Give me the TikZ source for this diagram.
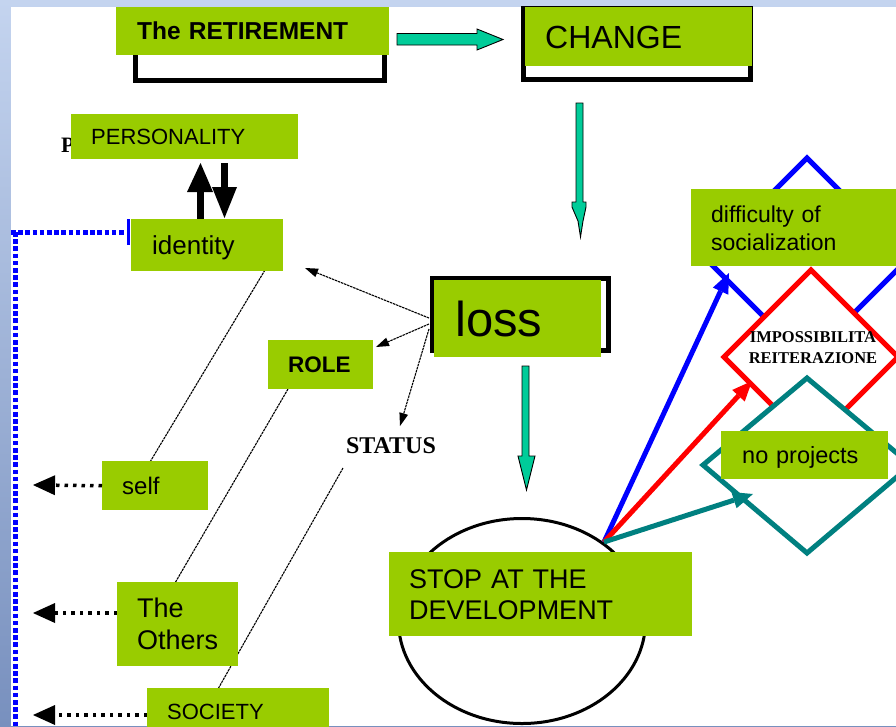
\documentclass[tikz,border=0pt]{standalone}
\usepackage{fontspec}
\setmainfont{Liberation Sans}
\newfontfamily\serifbf{Liberation Serif}
\usetikzlibrary{arrows.meta,shapes.geometric}
\definecolor{lime}{HTML}{99CC00}
\definecolor{aqua}{HTML}{00CC99}
\definecolor{tealdk}{HTML}{008080}
\definecolor{bgtop}{HTML}{C4D4EF}
\definecolor{bgbot}{HTML}{7890BE}
\newcommand\fsz[2]{\fontsize{#1pt}{#2pt}\selectfont}
\begin{document}
\begin{tikzpicture}[x=1pt,y=-1pt,
  gbox/.style={fill=lime, anchor=north west, inner ysep=0pt, align=left, text depth=0pt, text=black},
  outl/.style={draw=black, line width=5pt, fill=white},
  blockarr/.style={fill=aqua, draw=black, line width=0.9pt, line join=miter},
  thinln/.style={line width=1.1pt, dash pattern=on 2.5pt off 0.8pt},
  thinarr/.style={thinln, -{Triangle[length=13pt,width=9pt,line width=0pt]}},
  dotarr/.style={line width=3.5pt, dash pattern=on 3.5pt off 5pt, -{Triangle[length=22pt,width=20pt,line width=0pt]}},
  bluedot/.style={blue, line width=4.5pt, dash pattern=on 4.5pt off 2.7pt},
  hubarr/.style={line width=5pt, -{Triangle[length=20pt,width=17pt,line width=0pt]}},
  diam/.style={line width=5pt, fill=white, line join=miter},
]
\useasboundingbox (0,0) rectangle (896,726);
% slide background
\shade[top color=bgtop, bottom color=bgbot] (0,0) rectangle (896,726);
\fill[white] (11,7) rectangle (896,726);

% blue dotted frame
\draw[bluedot] (11,232.5) -- (126,232.5);
\draw[bluedot] (15.5,232) -- (15.5,730);
\draw[blue, line width=3pt] (128,219) -- (128,245);

% outlines behind green boxes
\draw[outl] (135.5,20) rectangle (384.5,80);
\draw[outl] (523,8.5) rectangle (750.5,79.5);
\draw[outl] (432.5,278.5) rectangle (608.5,350.5);

% diamonds
\draw[diam, draw=blue] (807,158) -- (908,259) -- (807,360) -- (706,259) -- cycle;
\draw[diam, draw=red] (811,270) -- (898,357) -- (811,444) -- (724,357) -- cycle;
\node[align=center, inner sep=0pt, font=\serifbf\bfseries\fsz{16.5}{21}] (imp) at (813,348) {IMPOSSIBILITA\\REITERAZIONE};
\draw[diam, draw=tealdk] (807,378) -- (911,465) -- (807,553) -- (703,465) -- cycle;

% ellipse
\node[ellipse, draw=black, line width=3pt, minimum width=247pt, minimum height=205pt, inner sep=0pt] (ell) at (522,621) {};
\coordinate (hub) at (604,542);
\coordinate (tb) at (729,273);
\coordinate (tr) at (752,381);
\coordinate (tt) at (753,494);
\draw[hubarr, blue] (hub) -- (tb);
\draw[hubarr, red] (hub) -- (tr);
\draw[hubarr, tealdk] (hub) -- (tt);

% block arrows
\draw[blockarr] (397,33.5) -- (477,33.5) -- (477,29) -- (503,39.5) -- (477,50) -- (477,45) -- (397,45) -- cycle;
\draw[blockarr] (576,103) -- (583,103) -- (583,202) -- (586,202) -- (586,207) -- (583,221) -- (580.5,237) -- (578,221) -- (572,207) -- (572,202) -- (576,202) -- cycle;
\draw[blockarr] (522,366) -- (529,366) -- (529,456) -- (535,456) -- (531,472) -- (526.5,490) -- (522,472) -- (518,456) -- (522,456) -- cycle;

% personality <-> identity arrows
\fill[black] (197,192) rectangle (204,219);
\fill[black] (187,192) -- (200.5,163) -- (213,192) -- cycle;
\fill[black] (221,163) rectangle (228,188);
\fill[black] (212,187) -- (224.5,218) -- (237,187) -- cycle;

% partially hidden letter
\node[anchor=base west, inner sep=0pt, font=\serifbf\bfseries\fsz{22}{24}] (pp) at (61,152) {P};

% slanted thin lines
\coordinate (l1a) at (265,270); \coordinate (l1b) at (150,462);
\coordinate (l2a) at (288,389); \coordinate (l2b) at (175,583);
\coordinate (l3a) at (343,468); \coordinate (l3b) at (218,689);
\draw[thinln] (l1a) -- (l1b);
\draw[thinln] (l2a) -- (l2b);
\draw[thinln] (l3a) -- (l3b);

% arrows from loss
\coordinate (lo1) at (429,318);
\coordinate (lo2) at (429,324);
\coordinate (lo3) at (429,329);
\coordinate (ti) at (305,268);
\coordinate (tro) at (376,347);
\coordinate (tst) at (400,426);
\draw[thinarr] (lo1) -- (ti);
\draw[thinarr] (lo2) -- (tro);
\draw[thinarr] (lo3) -- (tst);

\node[anchor=base, inner sep=0pt, font=\serifbf\bfseries\fsz{24}{26}] (status) at (391,453) {STATUS};

% green boxes
\node[gbox, minimum width=273pt, minimum height=48pt, inner xsep=21pt, text width=231pt, text height=17.5pt, font=\bfseries\fsz{24.5}{28}] (ret) at (116,7) {The RETIREMENT};
\node[gbox, minimum width=227pt, minimum height=59pt, inner xsep=20pt, text width=187pt, text height=23pt, font=\fsz{32}{36}] (chg) at (525,7) {CHANGE};
\node[gbox, minimum width=227pt, minimum height=45pt, inner xsep=20pt, text width=187pt, text height=15.8pt, font=\fsz{22}{26}] (pers) at (71,114) {PERSONALITY};
\node[gbox, minimum width=152pt, minimum height=52pt, inner xsep=21pt, text width=110pt, text height=19pt, font=\fsz{26}{30}] (idn) at (131,219) {identity};
\node[gbox, minimum width=167pt, minimum height=77pt, inner xsep=21pt, text width=125pt, text height=36pt, font=\fsz{49}{54}] (loss) at (434,280) {loss};
\node[gbox, minimum width=105pt, minimum height=49pt, inner xsep=20pt, text width=65pt, text height=16pt, font=\bfseries\fsz{22.5}{26}] (role) at (268,340) {ROLE};
\node[gbox, minimum width=215pt, minimum height=77pt, inner xsep=20pt, text width=175pt, text height=17pt, text depth=28pt, font=\fsz{23}{28}] (diff) at (691,189) {difficulty of\\socialization};
\node[gbox, minimum width=167pt, minimum height=48pt, inner xsep=21pt, text width=125pt, text height=16pt, font=\fsz{23.5}{28}] (nopj) at (721,431) {no projects};
\node[gbox, minimum width=106pt, minimum height=49pt, inner xsep=20pt, text width=66pt, text height=18pt, font=\fsz{24}{28}] (self) at (102,461) {self};
\node[gbox, minimum width=121pt, minimum height=84pt, inner xsep=20pt, text width=81pt, text height=19.5pt, text depth=32pt, font=\fsz{27}{32}] (oth) at (117,582) {The\\Others};
\node[gbox, minimum width=182pt, minimum height=46pt, inner xsep=20pt, text width=142pt, text height=15.8pt, font=\fsz{22}{26}] (soc) at (147,688) {SOCIETY};
\node[gbox, minimum width=303pt, minimum height=84pt, inner xsep=20pt, text width=263pt, text height=19.3pt, text depth=31pt, font=\fsz{27}{31}] (stop) at (389,552) {STOP AT THE\\DEVELOPMENT};

% dotted arrows to the left
\coordinate (d1) at (33,485);
\coordinate (d2) at (33,613);
\coordinate (d3) at (33,715);
\draw[dotarr] (self.west) -- (d1);
\draw[dotarr] (oth.west |- d2) -- (d2);
\draw[dotarr] (soc.west |- d3) -- (d3);
\end{tikzpicture}
\end{document}
